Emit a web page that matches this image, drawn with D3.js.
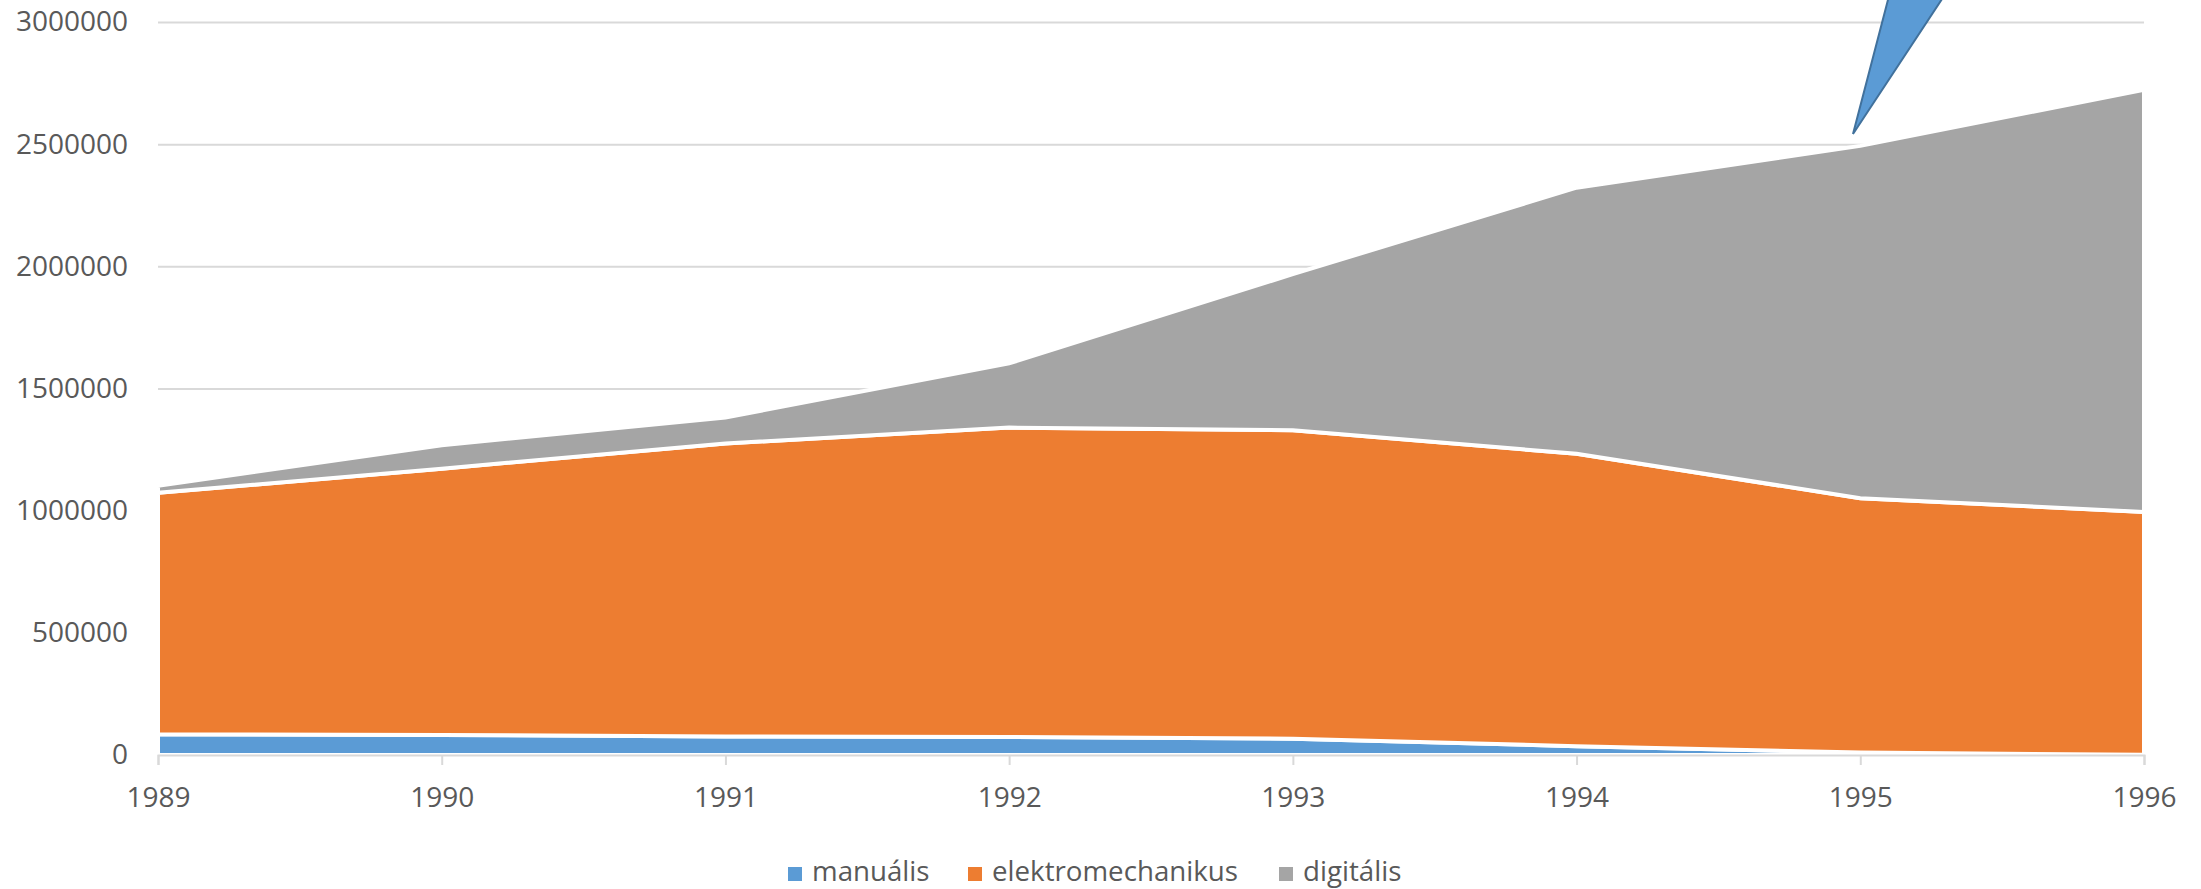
<!DOCTYPE html>
<html>
<head>
<meta charset="utf-8">
<script src="https://cdn.jsdelivr.net/npm/d3@7"></script>
<style>
    html, body { margin: 0; padding: 0; background: #fff; }
    svg { display: block; }
    text { font-family: "Open Sans", sans-serif; fill: #595959; }
</style>
</head>
<body>
<svg id="chart"></svg>
<script>
const margin = {top: 22, right: 57, bottom: 134, left: 158};
const width = 2201 - margin.left - margin.right;
const height = 889 - margin.top - margin.bottom;

// values
const years = [1989, 1990, 1991, 1992, 1993, 1994, 1995, 1996];
const manualis = [85000, 82000, 76000, 74000, 67000, 36000, 10000, 1000];
const elektromechanikus = [988000, 1090000, 1199000, 1266000, 1262000, 1197000, 1041000, 994000];
const digitalis = [29000, 96000, 106000, 263000, 639000, 1089000, 1442000, 1728000];
const yTicks = [0, 500000, 1000000, 1500000, 2000000, 2500000, 3000000];

const seriesNames = ['manuális', 'elektromechanikus', 'digitális'];
const seriesColors = ['#5B9BD5', '#ED7D31', '#A5A5A5'];

const rows = years.map((year, i) => ({
    year: year,
    'manuális': manualis[i],
    'elektromechanikus': elektromechanikus[i],
    'digitális': digitalis[i]
}));

const root = d3.select("#chart")
    .attr("width", 2201)
    .attr("height", 889);

const svg = root.append("g")
    .attr("transform", `translate(${margin.left}, ${margin.top})`);

// scales
const xScale = d3.scaleLinear()
    .domain([1989, 1996])
    .range([0, width]);

const yScale = d3.scaleLinear()
    .domain([0, 3000000])
    .range([height, 0]);

// gridlines + y labels
const yAxis = d3.axisLeft(yScale)
    .tickValues(yTicks)
    .tickSize(-width)
    .tickPadding(30)
    .tickFormat(d3.format("d"));

const yGroup = svg.append("g").call(yAxis);
yGroup.select(".domain").remove();
yGroup.selectAll("line").attr("stroke", "#d9d9d9").attr("stroke-width", 2);
yGroup.selectAll("text").attr("font-size", 28);

// stacked areas
const series = d3.stack().keys(seriesNames)(rows);

const area = d3.area()
    .x(d => xScale(d.data.year))
    .y0(d => yScale(d[0]))
    .y1(d => yScale(d[1]));

svg.selectAll(".layer")
    .data(series)
    .enter()
    .append("path")
    .attr("class", "layer")
    .attr("d", area)
    .attr("fill", (d, i) => seriesColors[i])
    .attr("stroke", "#fff")
    .attr("stroke-width", 4);

// x axis
const xAxis = d3.axisBottom(xScale)
    .tickValues(years)
    .tickSize(10)
    .tickPadding(22)
    .tickFormat(d3.format("d"));

const xGroup = svg.append("g")
    .attr("transform", `translate(0,${height})`)
    .call(xAxis);
xGroup.select(".domain").attr("stroke", "#d9d9d9").attr("stroke-width", 2);
xGroup.selectAll("line").attr("stroke", "#d9d9d9").attr("stroke-width", 2);
xGroup.selectAll("text").attr("font-size", 28);

// callout pointer, cut by the top of the picture
root.append("polygon")
    .attr("points", "1853,134 1889,-4 1944,-4")
    .attr("fill", "#5B9BD5")
    .attr("stroke", "#41719C")
    .attr("stroke-width", 2);

// legend
const legendSwatchX = [788, 968, 1279];
const legend = root.selectAll(".legend-item")
    .data(seriesNames)
    .enter()
    .append("g")
    .attr("class", "legend-item")
    .attr("transform", (d, i) => `translate(${legendSwatchX[i]}, 867)`);

legend.append("rect")
    .attr("width", 14)
    .attr("height", 14)
    .attr("fill", (d, i) => seriesColors[i]);

legend.append("text")
    .attr("x", 24)
    .attr("y", 14)
    .attr("font-size", 27.7)
    .text(d => d);
</script>
</body>
</html>
